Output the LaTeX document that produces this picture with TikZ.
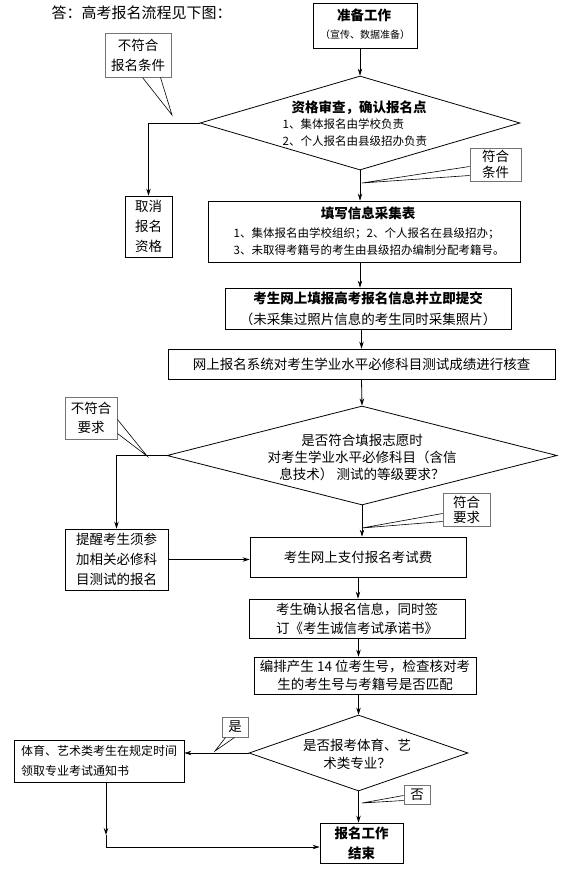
\documentclass[tikz,border=0pt]{standalone}
\usepackage{fontspec}
\setmainfont{Noto Sans CJK SC}
\usetikzlibrary{shapes.geometric,arrows.meta}
\newcommand{\fs}[2]{\fontsize{#1pt}{#2pt}\selectfont}
\tikzset{
  box/.style={draw, line width=.8pt, inner sep=0pt, align=center},
  dia/.style={draw, diamond, line width=.8pt, inner sep=0pt},
  note/.style={draw=black!55, line width=1pt, fill=white, inner sep=0pt, align=center},
  ptr/.style={line width=.6pt},
}
\begin{document}
\begin{tikzpicture}[x=1pt, y=-1pt, >={Stealth[length=7pt,width=4.5pt]}, line width=.8pt, font=\fs{13.5}{20}]
\useasboundingbox (0,0) rectangle (576,875);
\node[anchor=west, font=\fs{15}{18}] (title) at (48,13) {答：高考报名流程见下图：};
% boxes and diamonds
\node[box, minimum width=104pt, minimum height=45pt] (prep) at (365,25.5) {};
\node (preptitle) at (364,15) {\bfseries 准备工作};
\node[font=\fs{10}{12}] (prepsub) at (365,35) {（宣传、数据准备）};
\node[dia, minimum width=320pt, minimum height=94pt] (d1) at (360,123) {};
\node (d1title) at (359,108) {\bfseries 资格审查，确认报名点};
\node[anchor=west, align=left, font=\fs{11.5}{17}] (d1list) at (279,132.5) {1、集体报名由学校负责\\2、个人报名由县级招办负责};
\node[box, minimum width=47pt, minimum height=61pt] (cancel) at (148.5,226.5) {取消\\报名\\资格};
\node[box, minimum width=312pt, minimum height=61pt] (fill) at (364,231.5) {};
\node (filltitle) at (368,213) {\bfseries 填写信息采集表};
\node[anchor=west, align=left, font=\fs{11.5}{17}] (filllist) at (230,241.5) {1、集体报名由学校组织；2、个人报名在县级招办；\\3、未取得考籍号的考生由县级招办编制分配考籍号。};
\node[box, minimum width=286pt, minimum height=41pt, font=\fs{13.5}{21}] (submit) at (368,308.5) {\textbf{考生网上填报高考报名信息并立即提交}\\（未采集过照片信息的考生同时采集照片）};
\node[box, minimum width=387pt, minimum height=30pt] (check) at (361.5,364) {网上报名系统对考生学业水平必修科目测试成绩进行核查};
\node[dia, minimum width=390pt, minimum height=99pt] (d2) at (362,455.5) {};
\node[align=center, font=\fs{13.5}{17}] (d2text) at (362,457) {是否符合填报志愿时\\对考生学业水平必修科目（含信\\息技术） 测试的等级要求？};
\node[box, minimum width=103pt, minimum height=61pt] (remind) at (116.5,559.5) {提醒考生须参\\加相关必修科\\目测试的报名};
\node[box, minimum width=216pt, minimum height=40pt] (pay) at (358,557) {考生网上支付报名考试费};
\node[box, minimum width=216pt, minimum height=39pt, font=\fs{13.5}{19}] (confirm) at (357,618.5) {考生确认报名信息，同时签\\订《考生诚信考试承诺书》};
\node[box, minimum width=222pt, minimum height=37pt, font=\fs{13.5}{18}] (numbox) at (365,675.5) {编排产生 14 位考生号，检查核对考\\生的考生号与考籍号是否匹配};
\node[dia, minimum width=219pt, minimum height=76pt] (d3) at (358.5,753) {};
\node[align=center, font=\fs{13.5}{18}] (d3text) at (357,754) {是否报考体育、艺\\术类专业？};
\node[box, minimum width=170pt, minimum height=42pt, align=left, font=\fs{12}{20}] (sport) at (99,761) {体育、艺术类考生在规定时间\\领取专业考试通知书};
\node[box, minimum width=83pt, minimum height=40pt, font=\bfseries\fs{13.5}{20}] (finish) at (361.5,843) {报名工作\\结束};
% connectors
\draw[->] (prep.south -| d1.north) -- (d1.north);
\draw[->] (d1.west) -| (cancel.north);
\draw[->] (d1.south) -- (d1.south |- fill.north);
\draw[->] (fill.south -| d1.south) -- (submit.north -| d1.south);
\draw[->] (submit.south -| check.north) -- (check.north);
\draw[->] (check.south) -- (d2.north);
\draw[->] (d2.west) -| (remind.north);
\draw[->] (d2.south) -- (d2.south |- pay.north);
\draw[->] (remind.east) -- (remind.east -| pay.west);
\draw[->] (pay.south) -- (pay.south |- confirm.north);
\draw[->] (confirm.south -| d3.north) -- (numbox.north -| d3.north);
\draw[->] (numbox.south -| d3.north) -- (d3.north);
\draw[->] (d3.west) -- (d3.west -| sport.east);
\draw[->] (d3.south) -- (d3.south |- finish.north);
\coordinate (mid) at (106,835);
\coordinate (turn) at (106,847);
\draw[->] (sport.south -| mid) -- (mid);
\draw[->] (mid) -- (turn) -- (finish.west |- turn);
% callouts
\node[note, minimum width=66pt, minimum height=43pt] (c1) at (138,55.5) {不符合\\报名条件};
\coordinate (c1tip) at (172,115);
\draw[ptr] ([xshift=38pt]c1.south west) -- (c1tip) -- ([xshift=56pt]c1.south west);
\node[note, minimum width=51pt, minimum height=33pt, font=\fs{13.5}{16}] (c2) at (495.5,164.5) {符合\\条件};
\coordinate (c2tip) at (362,183);
\draw[ptr] ([yshift=15pt]c2.south west) -- (c2tip) -- ([yshift=6pt]c2.south west);
\node[note, minimum width=52pt, minimum height=42pt, font=\fs{13.5}{19}] (c3) at (91,418) {不符合\\要求};
\coordinate (c3tip) at (147,456);
\draw[ptr] ([yshift=20pt]c3.south east) -- (c3tip) -- ([yshift=6pt]c3.south east);
\node[note, minimum width=47pt, minimum height=33pt, font=\fs{13.5}{15}] (c4) at (466.5,509.5) {符合\\要求};
\coordinate (c4tip) at (362,528);
\draw[ptr] ([yshift=13pt]c4.south west) -- (c4tip) -- ([yshift=5pt]c4.south west);
\node[note, minimum width=26pt, minimum height=20pt] (c5) at (235,727) {是};
\coordinate (c5tip) at (215,751);
\draw[ptr] ([xshift=4pt]c5.south west) -- (c5tip) -- ([xshift=13pt]c5.south west);
\node[note, minimum width=26pt, minimum height=19pt] (c6) at (417,794.5) {否};
\coordinate (c6tip) at (362,803);
\draw[ptr] ([yshift=9pt]c6.south west) -- (c6tip) -- ([yshift=4pt]c6.south west);
\end{tikzpicture}
\end{document}
